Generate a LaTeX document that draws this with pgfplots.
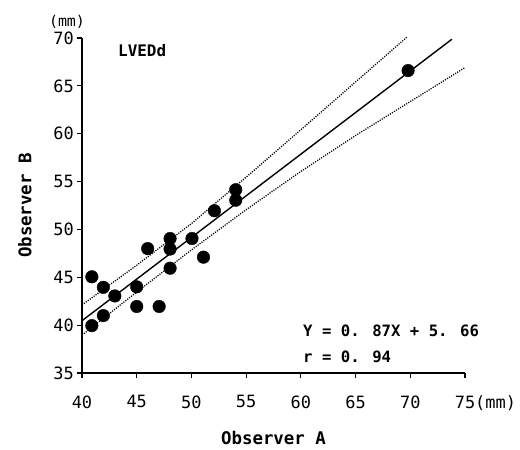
\documentclass[border=0pt]{standalone}
\usepackage{fontspec}
\setmainfont{DejaVu Sans Mono}
\usepackage{pgfplots}
\pgfplotsset{compat=1.18}
\begin{document}
\begin{tikzpicture}
\path[use as bounding box] (0,0) rectangle (520bp,450bp);
\begin{axis}[
  at={(82bp,77bp)}, anchor=south west,
  scale only axis, width=383bp, height=335bp,
  xmin=40, xmax=75, ymin=35, ymax=70,
  axis x line*=bottom, axis y line*=left,
  xtick={40,45,...,75}, ytick={35,40,...,70},
  xticklabels={40,45,50,55,60,65,70,{75\rlap{(mm)}}},
  tick align=outside, major tick length=5bp,
  axis line style={line width=1.4bp},
  tick style={line width=1.2bp, black},
  ticklabel style={font=\fontsize{17}{17}\selectfont},
  xticklabel style={yshift=-14bp},
  yticklabel style={inner sep=1pt, xshift=-2bp},
  /pgf/number format/assume math mode=true,
  xlabel={Observer A}, ylabel={Observer B},
  label style={font=\fontsize{17.5}{17.5}\selectfont\bfseries},
  xlabel style={at={(rel axis cs:0.5,0)}, anchor=center, yshift=-65bp},
  ylabel style={at={(rel axis cs:0,0.5)}, anchor=center, yshift=57bp},
  clip=false,
]
\addplot[only marks, mark=*, mark size=6.3bp, black] coordinates {
(40.9,45.05) (40.9,39.95) (41.95,43.95) (41.95,41.0) (43.0,43.05)
(45.0,44.0) (45.0,41.95) (46.0,48.0) (47.05,41.95) (48.05,49.05)
(48.05,47.95) (48.05,45.95) (50.05,49.05) (51.1,47.1) (52.1,51.95)
(54.05,54.15) (54.05,53.05) (69.8,66.6)
};
\addplot[black, line width=1.4bp] coordinates {(40,40.46) (73.8,69.87)};
\addplot[black, line width=1.3bp, dash pattern=on 1.1bp off 1.3bp] coordinates {
(40,42.11) (45,46.26) (50,50.61) (55,55.46) (60,60.41) (65,65.41) (69.7,70.1)
};
\addplot[black, line width=1.3bp, dash pattern=on 1.1bp off 1.3bp] coordinates {
(40,38.96) (45,43.46) (50,47.86) (55,52.06) (60,56.06) (65,59.81) (70,63.36) (75,66.91)
};
\node[font=\fontsize{16}{16}\selectfont\bfseries] at (axis cs:45.5,68.64) {LVEDd};
\node[font=\fontsize{15.7}{15.7}\selectfont\bfseries, anchor=west, inner sep=0pt] at (axis cs:60.2,39.39) {Y = 0. 87X + 5. 66};
\node[font=\fontsize{15.7}{15.7}\selectfont\bfseries, anchor=west, inner sep=0pt] at (axis cs:60.2,36.67) {r = 0. 94};
\node[font=\fontsize{15}{15}\selectfont, anchor=south, inner sep=0pt] at (rel axis cs:0,1) [xshift=-15bp, yshift=9bp] {(mm)};
\end{axis}
\end{tikzpicture}
\end{document}
